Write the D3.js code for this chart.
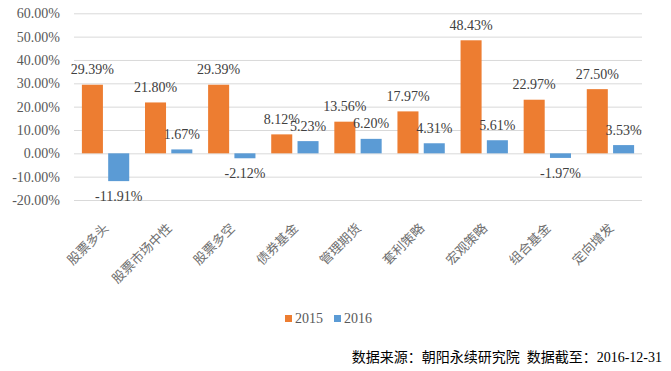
<!DOCTYPE html>
<html>
<head>
<meta charset="utf-8">
<script src="https://cdn.jsdelivr.net/npm/d3@7"></script>
<style>
  body { margin: 0; background: #fff; }
  svg { display: block; }
</style>
</head>
<body>
<svg id="drawing_region"></svg>
<script>
const categories = ['股票多头', '股票市场中性', '股票多空', '债券基金', '管理期货', '套利策略', '宏观策略', '组合基金', '定向增发'];
const years = ['2015', '2016'];
const values2015 = [29.39, 21.80, 29.39, 8.12, 13.56, 17.97, 48.43, 22.97, 27.50];
const values2016 = [-11.91, 1.67, -2.12, 5.23, 6.20, 4.31, 5.61, -1.97, 3.53];
const yTicks = [-20, -10, 0, 10, 20, 30, 40, 50, 60];
const colors = ['#ED7D31', '#5B9BD5'];

const width = 671, height = 371;
const plot = {left: 74, right: 642, top: 13.3, bottom: 200};
const serif = '"Liberation Serif", "Times New Roman", serif';
const cjk = '"Noto Sans CJK SC", sans-serif';

const svg = d3.select('#drawing_region')
    .attr('width', width)
    .attr('height', height);

svg.append('rect').attr('width', width).attr('height', height).attr('fill', '#fff');

const yscale = d3.scaleLinear()
    .domain([-20, 60])
    .range([plot.bottom, plot.top]);

const x0 = d3.scaleBand()
    .domain(categories)
    .range([plot.left, plot.right])
    .paddingInner(0.25)
    .paddingOuter(0.125);

const x1 = d3.scaleBand()
    .domain(years)
    .range([0, x0.bandwidth()])
    .paddingInner(0.2);

// y axis + gridlines
const yaxis = d3.axisLeft(yscale)
    .tickValues(yTicks)
    .tickSizeInner(-(plot.right - plot.left))
    .tickSizeOuter(0)
    .tickPadding(14)
    .tickFormat(d => d.toFixed(2) + '%');

const yaxis_group = svg.append('g')
    .attr('transform', `translate(${plot.left},0)`)
    .call(yaxis);
yaxis_group.select('.domain').remove();
yaxis_group.selectAll('line').attr('stroke', '#D9D9D9');
yaxis_group.selectAll('text')
    .attr('font-family', serif)
    .attr('font-size', 14)
    .attr('fill', '#595959');

// bars
const rows = categories.map((c, i) => ({category: c, values: [values2015[i], values2016[i]]}));

const groups = svg.selectAll('g.cat')
    .data(rows)
    .enter()
    .append('g')
    .attr('class', 'cat')
    .attr('transform', d => `translate(${x0(d.category)},0)`);

groups.selectAll('rect')
    .data(d => d.values.map((v, k) => ({year: years[k], value: v, k: k})))
    .enter()
    .append('rect')
    .attr('x', d => x1(d.year))
    .attr('y', d => yscale(Math.max(0, d.value)))
    .attr('width', x1.bandwidth())
    .attr('height', d => Math.abs(yscale(d.value) - yscale(0)))
    .attr('fill', d => colors[d.k]);

groups.selectAll('text.lbl')
    .data(d => d.values.map((v, k) => ({year: years[k], value: v, k: k})))
    .enter()
    .append('text')
    .attr('class', 'lbl')
    .attr('x', d => x1(d.year) + x1.bandwidth() / 2)
    .attr('y', d => d.value >= 0 ? yscale(d.value) - 10.5 : yscale(d.value) + 20)
    .attr('text-anchor', 'middle')
    .attr('font-family', serif)
    .attr('font-size', 14)
    .attr('fill', '#404040')
    .text(d => d.value.toFixed(2) + '%');

// category labels
svg.append('g').selectAll('text')
    .data(categories)
    .enter()
    .append('text')
    .attr('transform', d => `translate(${x0(d) + x0.bandwidth() / 2 + 4},229) rotate(-45)`)
    .attr('text-anchor', 'end')
    .attr('font-family', cjk)
    .attr('font-size', 13)
    .attr('fill', '#6F6F6F')
    .text(d => d);

// legend
const legend = svg.append('g').selectAll('g')
    .data(years)
    .enter()
    .append('g')
    .attr('transform', (d, i) => `translate(${285 + i * 49},315)`);

legend.append('rect')
    .attr('width', 7)
    .attr('height', 7)
    .attr('fill', (d, i) => colors[i]);

legend.append('text')
    .attr('x', 10)
    .attr('y', 7.5)
    .attr('font-family', serif)
    .attr('font-size', 14)
    .attr('fill', '#595959')
    .text(d => d);

// source note
svg.append('text')
    .attr('x', 662)
    .attr('y', 362)
    .attr('text-anchor', 'end')
    .attr('font-family', `"Liberation Serif", ${cjk}`)
    .attr('font-size', 14)
    .attr('fill', '#000')
    .style('white-space', 'pre')
    .text('数据来源：朝阳永续研究院  数据截至：2016-12-31');
</script>
</body>
</html>
